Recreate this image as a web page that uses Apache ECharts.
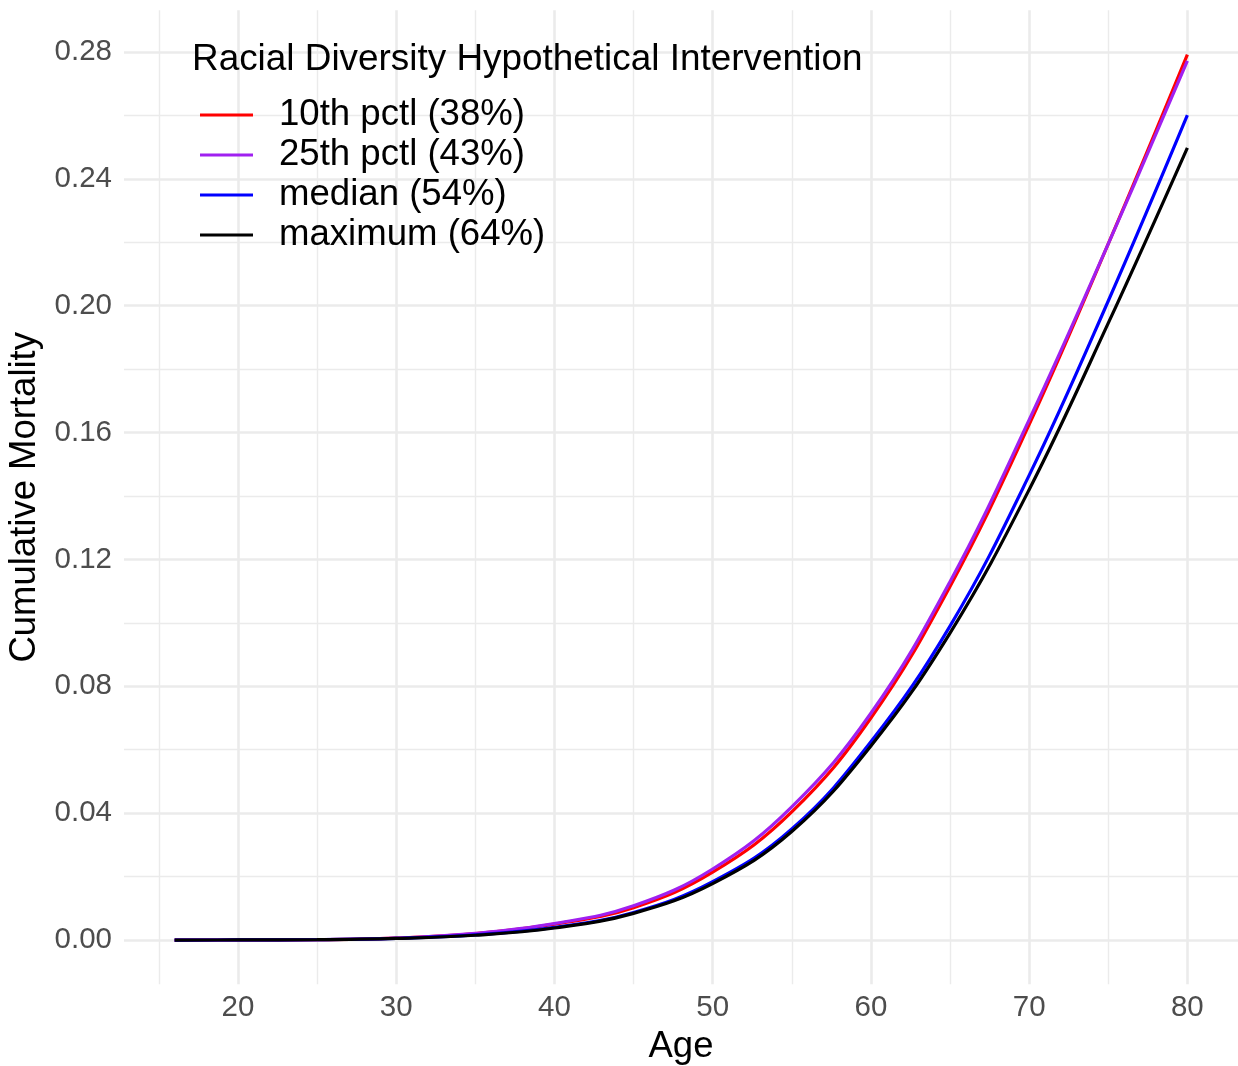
<!DOCTYPE html>
<html>
<head>
<meta charset="utf-8">
<script src="https://cdn.jsdelivr.net/npm/echarts@6/dist/echarts.min.js"></script>
<style>
  html, body { margin: 0; padding: 0; background: #ffffff; }
  #chart { width: 1238px; height: 1066px; }
</style>
</head>
<body>
<div id="chart"></div>
<script>
// Cumulative mortality by age under each hypothetical racial-diversity level
const ages = [16, 20, 25, 30, 35, 40, 45, 50, 55, 60, 65, 70, 75, 80];
const pctl10 = [0, 0.00002, 0.0001, 0.0006, 0.0020, 0.0050, 0.0102, 0.0214, 0.0404, 0.0700, 0.1115, 0.1625, 0.2195, 0.2792];
const pctl25 = [0, 0.00002, 0.0001, 0.0006, 0.0021, 0.0052, 0.0108, 0.0224, 0.0420, 0.0715, 0.1130, 0.1640, 0.2195, 0.2772];
const median = [0, 0.00002, 0.0001, 0.0005, 0.0016, 0.0040, 0.0087, 0.0184, 0.0350, 0.0625, 0.0990, 0.1465, 0.2015, 0.2601];
const maximum = [0, 0.00002, 0.0001, 0.0005, 0.0015, 0.0038, 0.0084, 0.0178, 0.0342, 0.0612, 0.0968, 0.1420, 0.1945, 0.2498];

const seriesNames = ['10th pctl (38%)', '25th pctl (43%)', 'median (54%)', 'maximum (64%)'];
const legendTitle = 'Racial Diversity Hypothetical Intervention';

// Axis breaks
const xMajor = [20, 30, 40, 50, 60, 70, 80];
const xMinor = [15, 25, 35, 45, 55, 65, 75];
const yMajor = [0, 0.04, 0.08, 0.12, 0.16, 0.20, 0.24, 0.28];
const yMinor = [0.02, 0.06, 0.10, 0.14, 0.18, 0.22, 0.26];

const FONT = '"Liberation Sans", Arial, Helvetica, sans-serif';
const colors = ['#ff0000', '#a020f0', '#0000ff', '#000000'];
const values = [pctl10, pctl25, median, maximum];

const gridMajor = { color: '#ebebeb', width: 2.6, type: 'solid' };
const gridMinor = { color: '#ebebeb', width: 1.4, type: 'solid' };

const gridLines = []
  .concat(xMinor.map(v => ({ xAxis: v, lineStyle: gridMinor })))
  .concat(yMinor.map(v => ({ yAxis: v, lineStyle: gridMinor })))
  .concat(xMajor.map(v => ({ xAxis: v, lineStyle: gridMajor })))
  .concat(yMajor.map(v => ({ yAxis: v, lineStyle: gridMajor })));

const curveSeries = seriesNames.map((name, i) => ({
  name: name,
  type: 'line',
  data: ages.map((a, j) => [a, values[i][j]]),
  smooth: 0.4,
  showSymbol: false,
  symbol: 'none',
  z: 10,
  lineStyle: { color: colors[i], width: 3.2 },
  itemStyle: { color: colors[i], borderWidth: 0 },
  emphasis: { disabled: true }
}));

const chart = echarts.init(document.getElementById('chart'), null, { renderer: 'canvas' });
chart.setOption({
  animation: false,
  backgroundColor: '#ffffff',
  textStyle: { fontFamily: FONT },
  title: {
    text: legendTitle,
    left: 192,
    top: 40,
    padding: 0,
    z: 20,
    textStyle: { fontFamily: FONT, fontSize: 36.9, fontWeight: 'normal', color: '#000000', lineHeight: 40 }
  },
  legend: {
    data: seriesNames,
    orient: 'vertical',
    left: 200,
    top: 95,
    padding: 0,
    itemGap: 0,
    itemWidth: 53,
    itemHeight: 3,
    z: 20,
    icon: 'path://M0,0 L53,0 L53,3 L0,3 Z',
    selectedMode: false,
    itemStyle: { borderWidth: 0 },
    lineStyle: { width: 0 },
    textStyle: { fontFamily: FONT, fontSize: 36.6, lineHeight: 40, color: '#000000', padding: [0, 0, 0, 21] }
  },
  grid: { left: 124, right: 0, top: 10.3, bottom: 81.7, containLabel: false, outerBoundsMode: 'none' },
  xAxis: {
    type: 'value',
    min: 12.8,
    max: 83.2,
    name: 'Age',
    nameLocation: 'middle',
    nameGap: 39,
    nameTextStyle: { fontFamily: FONT, fontSize: 36.5, color: '#000000' },
    axisLine: { show: false },
    axisTick: { show: false },
    splitLine: { show: false },
    axisLabel: {
      customValues: xMajor,
      margin: 9,
      fontFamily: FONT,
      fontSize: 29.5,
      color: '#4d4d4d',
      formatter: v => String(v)
    }
  },
  yAxis: {
    type: 'value',
    min: -0.01396,
    max: 0.29316,
    name: 'Cumulative Mortality',
    nameLocation: 'middle',
    nameGap: 68,
    nameTextStyle: { fontFamily: FONT, fontSize: 36.5, color: '#000000' },
    axisLine: { show: false },
    axisTick: { show: false },
    splitLine: { show: false },
    axisLabel: {
      customValues: yMajor,
      margin: 12,
      fontFamily: FONT,
      fontSize: 29.5,
      color: '#4d4d4d',
      formatter: v => v.toFixed(2)
    }
  },
  series: [{
    name: 'grid',
    type: 'line',
    data: [],
    z: 1,
    silent: true,
    markLine: {
      z: 1,
      silent: true,
      symbol: ['none', 'none'],
      label: { show: false },
      emphasis: { disabled: true },
      animation: false,
      data: gridLines
    }
  }].concat(curveSeries)
});
</script>
</body>
</html>
